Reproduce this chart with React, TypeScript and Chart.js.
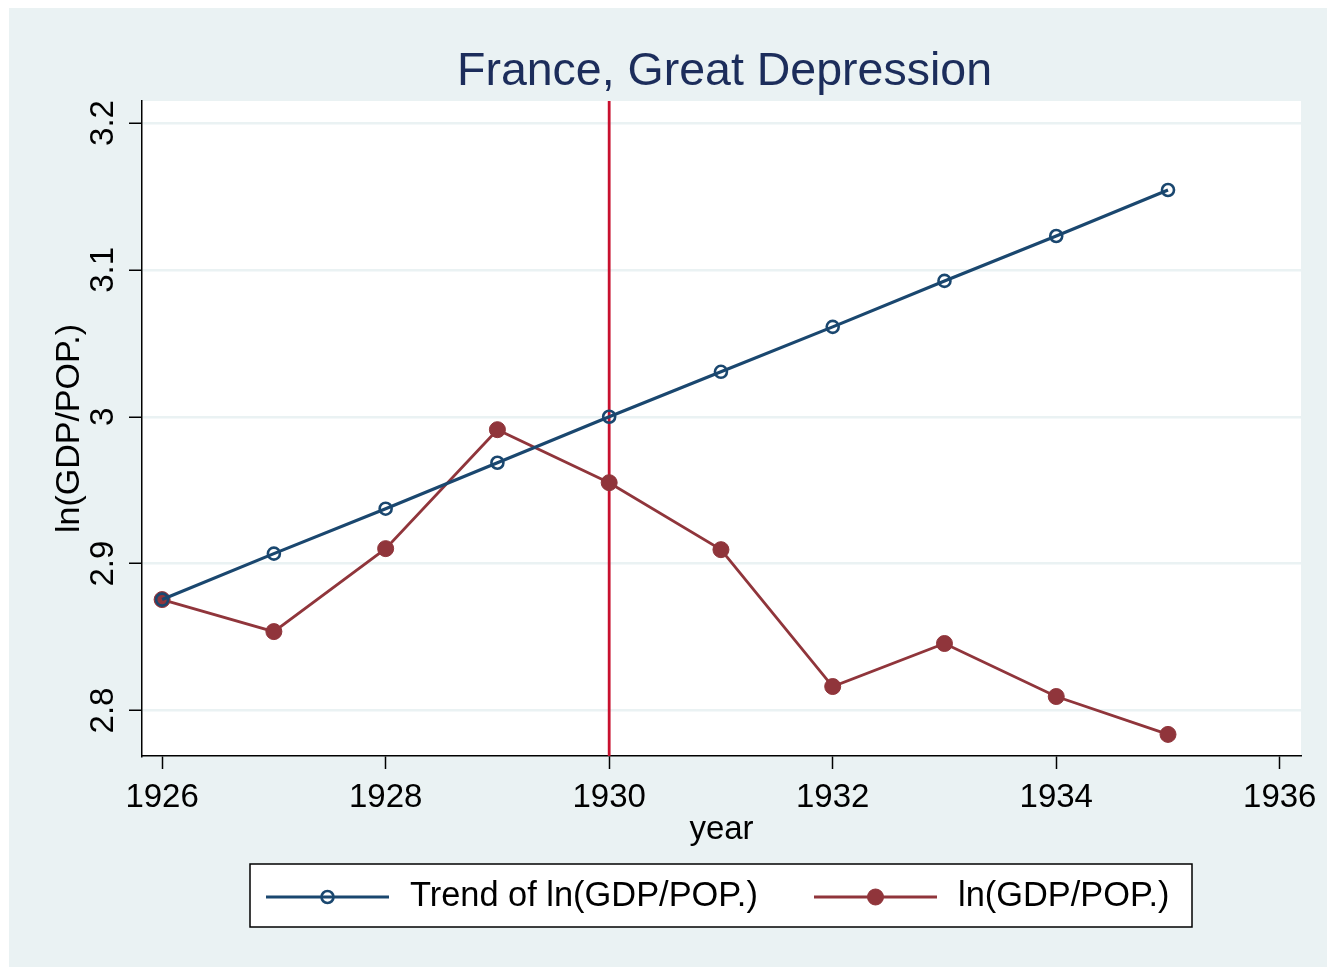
import React, { useEffect, useRef } from "react";
import { Chart, registerables } from "chart.js";

Chart.register(...registerables);

// ---------- data ----------
const years = [1926, 1927, 1928, 1929, 1930, 1931, 1932, 1933, 1934, 1935];
const trendValues = [2.8755, 2.9068, 2.9374, 2.9687, 3.0, 3.0306, 3.0612, 3.0925, 3.1231, 3.1544];
const actualValues = [2.8755, 2.8537, 2.9102, 2.9912, 2.9551, 2.9095, 2.8163, 2.8456, 2.8095, 2.7837];
const xTickValues = [1926, 1928, 1930, 1932, 1934, 1936];
const yTickValues = [2.8, 2.9, 3.0, 3.1, 3.2];
const yTickLabels = ["2.8", "2.9", "3", "3.1", "3.2"];
const seriesLabels = ["Trend of ln(GDP/POP.)", "ln(GDP/POP.)"];
const eventYears = [1930];
const chartTitle = "France, Great Depression";
const xAxisTitle = "year";
const yAxisTitle = "ln(GDP/POP.)";

// ---------- style ----------
const W = 1327;
const H = 967;
const BG = "#EAF2F3";
const NAVY = "#1A476F";
const MAROON = "#90353B";
const XLINE = "#C8102E";
const TITLE_COLOR = "#1C2D5B";
const FONT = "'Liberation Sans', Arial, Helvetica, sans-serif";

const decorPlugin = {
  id: "decor",
  beforeDraw(chart: any) {
    const { ctx, chartArea } = chart;
    ctx.save();
    ctx.fillStyle = "#FFFFFF";
    ctx.fillRect(0, 0, chart.width, chart.height);
    ctx.fillStyle = BG;
    ctx.fillRect(9, 8, chart.width - 9, chart.height - 8);
    ctx.fillStyle = "#FFFFFF";
    ctx.fillRect(chartArea.left, chartArea.top, chartArea.right - chartArea.left, chartArea.bottom - chartArea.top);
    ctx.restore();
  },
  beforeDatasetsDraw(chart: any) {
    const { ctx, chartArea, scales } = chart;
    ctx.save();
    ctx.strokeStyle = XLINE;
    ctx.lineWidth = 2.8;
    for (const yr of eventYears) {
      const x = scales.x.getPixelForValue(yr);
      ctx.beginPath();
      ctx.moveTo(x, chartArea.top);
      ctx.lineTo(x, chartArea.bottom);
      ctx.stroke();
    }
    ctx.restore();
  },
  afterDraw(chart: any) {
    const { ctx, chartArea } = chart;
    const cx = (chartArea.left + chartArea.right) / 2;
    const cy = (chartArea.top + chartArea.bottom) / 2;
    ctx.save();
    // title
    ctx.fillStyle = TITLE_COLOR;
    ctx.font = `46.5px ${FONT}`;
    ctx.textAlign = "center";
    ctx.textBaseline = "alphabetic";
    ctx.fillText(chartTitle, cx + 3, 85);
    // x title
    ctx.fillStyle = "#000";
    ctx.font = `33px ${FONT}`;
    ctx.fillText(xAxisTitle, cx, 839);
    // y title
    ctx.save();
    ctx.translate(79, cy);
    ctx.rotate(-Math.PI / 2);
    ctx.textAlign = "center";
    ctx.font = `34px ${FONT}`;
    ctx.fillText(yAxisTitle, 0, 0);
    ctx.restore();

    // legend
    const bx = 250, by = 864, bw = 942, bh = 63;
    ctx.fillStyle = "#FFFFFF";
    ctx.fillRect(bx, by, bw, bh);
    ctx.strokeStyle = "#000";
    ctx.lineWidth = 1.5;
    ctx.strokeRect(bx, by, bw, bh);
    const ly = 897;
    const items = [
      { x0: 266, x1: 389, tx: 410 },
      { x0: 814, x1: 937, tx: 958 },
    ];
    chart.data.datasets.forEach((ds: any, i: number) => {
      const it = items[i];
      ctx.strokeStyle = ds.borderColor;
      ctx.lineWidth = ds.borderWidth;
      ctx.beginPath();
      ctx.moveTo(it.x0, ly);
      ctx.lineTo(it.x1, ly);
      ctx.stroke();
      const mx = (it.x0 + it.x1) / 2;
      ctx.beginPath();
      ctx.arc(mx, ly, ds.pointRadius, 0, Math.PI * 2);
      if (ds.pointBackgroundColor && ds.pointBackgroundColor !== "rgba(0,0,0,0)") {
        ctx.fillStyle = ds.pointBackgroundColor;
        ctx.fill();
      }
      ctx.strokeStyle = ds.pointBorderColor;
      ctx.lineWidth = ds.pointBorderWidth;
      ctx.stroke();
      ctx.fillStyle = "#000";
      ctx.font = `34.4px ${FONT}`;
      ctx.textAlign = "left";
      ctx.textBaseline = "middle";
      ctx.fillText(seriesLabels[i], it.tx, ly);
    });
    ctx.restore();
  },
};

export default function App() {
  const ref = useRef<HTMLCanvasElement | null>(null);

  useEffect(() => {
    if (!ref.current) return;
    const chart = new Chart(ref.current, {
      type: "line",
      data: {
        datasets: [
          {
            label: seriesLabels[0],
            data: years.map((y, i) => ({ x: y, y: trendValues[i] })),
            borderColor: NAVY,
            borderWidth: 3.2,
            pointRadius: 6,
            pointBorderWidth: 2.6,
            pointBorderColor: NAVY,
            pointBackgroundColor: "rgba(0,0,0,0)",
            tension: 0,
          },
          {
            label: seriesLabels[1],
            data: years.map((y, i) => ({ x: y, y: actualValues[i] })),
            borderColor: MAROON,
            borderWidth: 2.8,
            pointRadius: 8,
            pointBorderWidth: 1,
            pointBorderColor: MAROON,
            pointBackgroundColor: MAROON,
            tension: 0,
          },
        ] as any,
      },
      options: {
        responsive: false,
        animation: false,
        events: [],
        layout: { padding: { top: 101, left: 8, right: 26, bottom: 111 } },
        plugins: {
          legend: { display: false },
          title: { display: false },
          tooltip: { enabled: false },
        },
        scales: {
          x: {
            type: "linear",
            min: 1925.82,
            max: 1936.19,
            afterBuildTicks: (scale: any) => {
              scale.ticks = xTickValues.map((v) => ({ value: v }));
            },
            afterFit: (scale: any) => {
              scale.height = 100;
              scale.paddingLeft = 0;
              scale.paddingRight = 0;
            },
            border: { display: true, color: "#000", width: 1.5 },
            grid: {
              display: true,
              drawOnChartArea: false,
              drawTicks: true,
              tickLength: 13,
              tickColor: "#000",
              tickWidth: 1.5,
            },
            ticks: {
              color: "#000",
              font: { family: FONT, size: 33 },
              padding: 9,
              maxRotation: 0,
              minRotation: 0,
              autoSkip: false,
              callback: (v: any) => String(v),
            },
          },
          y: {
            type: "linear",
            min: 2.769,
            max: 3.215,
            afterBuildTicks: (scale: any) => {
              scale.ticks = yTickValues.map((v) => ({ value: v }));
            },
            afterFit: (scale: any) => {
              scale.width = 134;
              scale.paddingTop = 0;
              scale.paddingBottom = 0;
            },
            border: { display: true, color: "#000", width: 1.5 },
            grid: {
              display: true,
              drawOnChartArea: true,
              color: BG,
              lineWidth: 2.5,
              drawTicks: true,
              tickLength: 13,
              tickColor: "#000",
              tickWidth: 1.5,
            },
            ticks: {
              color: "#000",
              font: { family: FONT, size: 33 },
              padding: 2,
              minRotation: 90,
              maxRotation: 90,
              crossAlign: "center",
              autoSkip: false,
              callback: (v: any) => {
                const idx = yTickValues.findIndex((t) => Math.abs(t - v) < 1e-9);
                return idx >= 0 ? yTickLabels[idx] : "";
              },
            },
          },
        },
      } as any,
      plugins: [decorPlugin],
    });
    return () => chart.destroy();
  }, []);

  return (
    <canvas
      ref={ref}
      width={W}
      height={H}
      style={{ display: "block", position: "absolute", left: 0, top: 0, width: W, height: H }}
    />
  );
}
